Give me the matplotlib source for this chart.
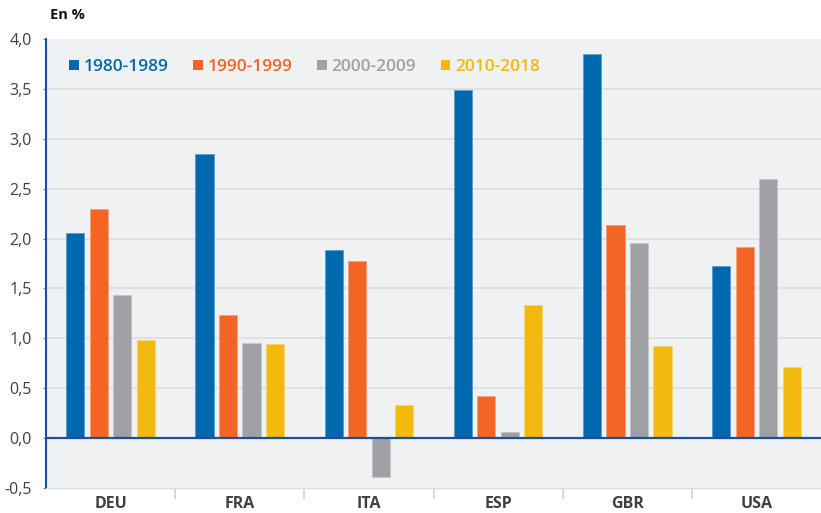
import matplotlib
matplotlib.use("Agg")
import matplotlib.pyplot as plt
from matplotlib.patches import Patch
import numpy as np

countries = ["DEU", "FRA", "ITA", "ESP", "GBR", "USA"]
series_names = ["1980-1989", "1990-1999", "2000-2009", "2010-2018"]
v_1980 = [2.06, 2.85, 1.89, 3.49, 3.85, 1.72]
v_1990 = [2.30, 1.23, 1.78, 0.42, 2.14, 1.92]
v_2000 = [1.43, 0.95, -0.39, 0.06, 1.96, 2.60]
v_2010 = [0.98, 0.94, 0.33, 1.33, 0.92, 0.71]
yticks = [-0.5, 0.0, 0.5, 1.0, 1.5, 2.0, 2.5, 3.0, 3.5, 4.0]
ytick_labels = ["-0,5", "0,0", "0,5", "1,0", "1,5", "2,0", "2,5", "3,0", "3,5", "4,0"]

colors = ["#0068ad", "#f26522", "#a0a1a4", "#f2b90f"]
edge_colors = ["#5a9ccc", "#f7a07a", "#c4c5c7", "#f7d56e"]
all_vals = [v_1980, v_1990, v_2000, v_2010]

plt.rcParams['font.family'] = ['Open Sans', 'DejaVu Sans']

fig = plt.figure(figsize=(8.21, 5.13), dpi=100)
ax = fig.add_axes([46/821, 1-488/513, 1-46/821, (488-39)/513])
ax.set_facecolor("#f0f1f3")

x = np.arange(len(countries))
step = 0.182
width = 0.14
for i, (vals, c, ec) in enumerate(zip(all_vals, colors, edge_colors)):
    ax.bar(x + (i - 1.5) * step, vals, width=width, color=c, edgecolor=ec,
           linewidth=0.6, zorder=3, label=series_names[i])

ax.set_xlim(-0.5, len(countries) - 0.5)
ax.set_ylim(-0.5, 4.0)
ax.set_yticks(yticks)
ax.set_yticklabels(ytick_labels, fontsize=11.5, color="#404040")
for y in yticks:
    if y not in (0.0, -0.5, 4.0):
        ax.axhline(y, color="#dcdde0", lw=1.2, zorder=1)
ax.axhline(0, color="#1f4e9c", lw=1.6, zorder=4)

ax.set_xticks(x)
ax.set_xticklabels(countries, fontsize=11.5, fontweight="bold", color="#404040")
ax.tick_params(axis="x", length=0, pad=6)
ax.tick_params(axis="y", length=2, width=0.8, color="#808080", pad=8)
# group separators
ax.set_xticks(np.arange(0.5, len(countries) - 0.5, 1.0), minor=True)
ax.tick_params(axis="x", which="minor", length=8, width=1.2, color="#d0d1d4")

for s in ["top", "right"]:
    ax.spines[s].set_visible(False)
ax.spines["left"].set_color("#1f4e9c")
ax.spines["left"].set_linewidth(1.5)
ax.spines["bottom"].set_color("#dcdde0")
ax.spines["bottom"].set_linewidth(1.0)

handles = [Patch(facecolor=c, edgecolor='none') for c in colors]
leg = ax.legend(handles, series_names, loc="upper left", bbox_to_anchor=(0.01, 0.99),
                ncol=4, frameon=False, handlelength=0.55, handleheight=0.55,
                handletextpad=0.25, columnspacing=1.45,
                prop={"size": 12.5, "weight": "semibold"}, labelcolor=colors)

fig.text(50/821, 1-15/513, "En %", fontsize=10.5, fontweight="bold", color="#111111",
         va="center", ha="left")

fig.savefig("out.png", dpi=100, facecolor="white")
